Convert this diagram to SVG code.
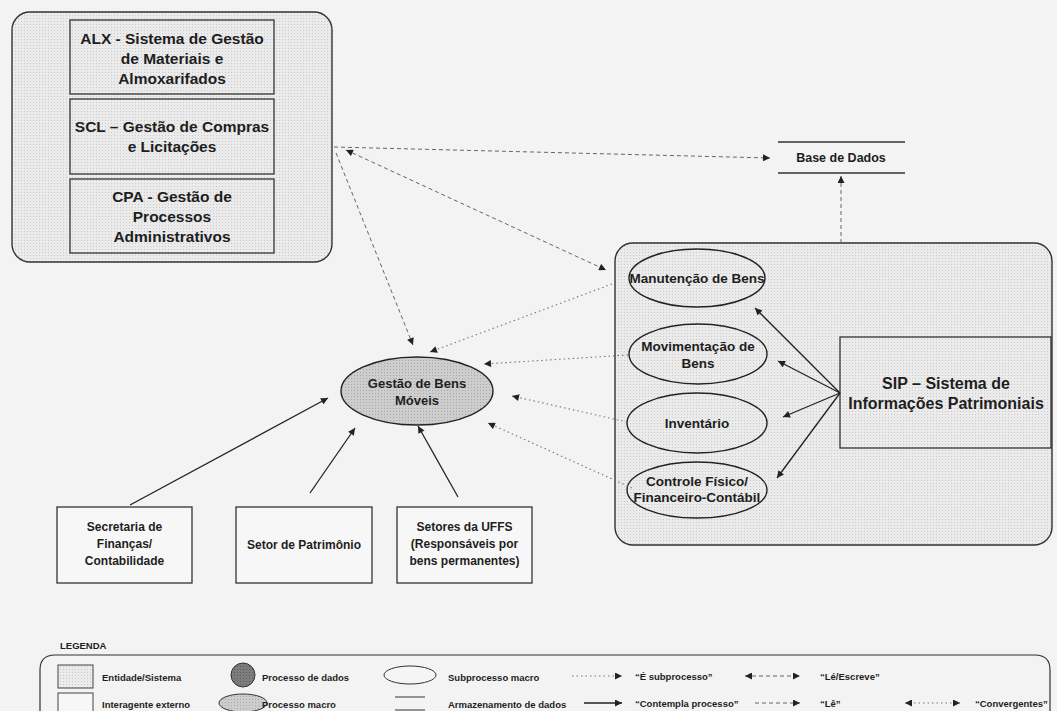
<svg xmlns="http://www.w3.org/2000/svg" width="1057" height="711" viewBox="0 0 1057 711">
<defs>
  <pattern id="dots" width="3" height="3" patternUnits="userSpaceOnUse"><rect width="3" height="3" fill="#ebebeb"/><rect width="1" height="1" fill="#c9c9c9"/></pattern>
  <pattern id="gdots" width="3" height="3" patternUnits="userSpaceOnUse"><rect width="3" height="3" fill="#cdcdcd"/><rect width="1" height="1" fill="#a9a9a9"/></pattern>
  <pattern id="ddots" width="3" height="3" patternUnits="userSpaceOnUse"><rect width="3" height="3" fill="#7d7d7d"/><rect width="1" height="1" fill="#5a5a5a"/></pattern>
  <marker id="ah" viewBox="0 0 10 10" refX="10" refY="5" markerWidth="8" markerHeight="7" markerUnits="userSpaceOnUse" orient="auto-start-reverse"><path d="M0,0 L10,5 L0,10 z" fill="#222"/></marker>
</defs>
<style>
  .t{font-family:"Liberation Sans",Arial,sans-serif;font-weight:bold;fill:#1e1e1e;text-anchor:middle;dominant-baseline:central}
  .l{font-family:"Liberation Sans",Arial,sans-serif;font-weight:bold;fill:#1e1e1e;font-size:9.5px;dominant-baseline:central}
  .cont{fill:url(#dots);stroke:#333;stroke-width:1.4}
  .box{fill:url(#dots);stroke:#333;stroke-width:1.3}
  .ext{fill:#f7f7f7;stroke:#333;stroke-width:1.3}
  .sub{fill:url(#dots);stroke:#222;stroke-width:1.4}
  .solid{stroke:#222;stroke-width:1.3;fill:none}
  .dash{stroke:#666;stroke-width:1;stroke-dasharray:4 3;fill:none}
  .dot{stroke:#777;stroke-width:1.1;stroke-dasharray:1.5 3;fill:none}
</style>
<rect width="1057" height="711" fill="#f3f3f3"/>

<g id="left-container">
  <rect class="cont" x="12" y="12" width="320" height="250" rx="18"/>
</g>
<g id="alx">
  <rect class="box" x="70" y="20" width="204" height="74"/>
  <text class="t" font-size="15.5" x="172" y="38">ALX - Sistema de Gestão</text>
  <text class="t" font-size="15.5" x="172" y="58">de Materiais e</text>
  <text class="t" font-size="15.5" x="172" y="78">Almoxarifados</text>
</g>
<g id="scl">
  <rect class="box" x="70" y="99" width="204" height="75"/>
  <text class="t" font-size="15.5" x="172" y="126">SCL – Gestão de Compras</text>
  <text class="t" font-size="15.5" x="172" y="146">e Licitações</text>
</g>
<g id="cpa">
  <rect class="box" x="70" y="179" width="204" height="74"/>
  <text class="t" font-size="15.5" x="172" y="196">CPA - Gestão de</text>
  <text class="t" font-size="15.5" x="172" y="216">Processos</text>
  <text class="t" font-size="15.5" x="172" y="236">Administrativos</text>
</g>

<g id="base-de-dados">
  <line x1="778" y1="142" x2="905" y2="142" stroke="#333" stroke-width="1.3"/>
  <line x1="778" y1="173" x2="905" y2="173" stroke="#333" stroke-width="1.3"/>
  <text class="t" font-size="12.5" x="841" y="158">Base de Dados</text>
</g>

<g id="right-container">
  <rect class="cont" x="615" y="243" width="437" height="302" rx="18"/>
</g>
<g id="manutencao">
  <ellipse class="sub" cx="697" cy="278" rx="68" ry="29"/>
  <text class="t" font-size="13.5" x="697" y="278">Manutenção de Bens</text>
</g>
<g id="movimentacao">
  <ellipse class="sub" cx="698" cy="354" rx="69" ry="30"/>
  <text class="t" font-size="13.5" x="698" y="346">Movimentação de</text>
  <text class="t" font-size="13.5" x="698" y="363">Bens</text>
</g>
<g id="inventario">
  <ellipse class="sub" cx="697" cy="423" rx="70" ry="30"/>
  <text class="t" font-size="13.5" x="697" y="423">Inventário</text>
</g>
<g id="controle">
  <ellipse class="sub" cx="697" cy="490" rx="70" ry="28"/>
  <text class="t" font-size="13.5" x="697" y="481">Controle Físico/</text>
  <text class="t" font-size="13.5" x="697" y="497">Financeiro-Contábil</text>
</g>
<g id="sip">
  <rect class="box" x="840" y="337" width="211" height="111"/>
  <text class="t" font-size="16" x="946" y="383">SIP – Sistema de</text>
  <text class="t" font-size="16" x="946" y="403">Informações Patrimoniais</text>
</g>

<g id="gestao">
  <ellipse cx="417" cy="391" rx="76" ry="34" fill="url(#gdots)" stroke="#222" stroke-width="1.4"/>
  <text class="t" font-size="13" x="417" y="383">Gestão de Bens</text>
  <text class="t" font-size="13" x="417" y="400">Móveis</text>
</g>

<g id="secretaria">
  <rect class="ext" x="57" y="507" width="135" height="76"/>
  <text class="t" font-size="12" x="124.5" y="527">Secretaria de</text>
  <text class="t" font-size="12" x="124.5" y="544">Finanças/</text>
  <text class="t" font-size="12" x="124.5" y="561">Contabilidade</text>
</g>
<g id="setor-patrimonio">
  <rect class="ext" x="236" y="507" width="136" height="76"/>
  <text class="t" font-size="12" x="304" y="545">Setor de Patrimônio</text>
</g>
<g id="setores-uffs">
  <rect class="ext" x="397" y="507" width="135" height="76"/>
  <text class="t" font-size="12" x="464.5" y="527">Setores da UFFS</text>
  <text class="t" font-size="12" x="464.5" y="544">(Responsáveis por</text>
  <text class="t" font-size="12" x="464.5" y="561">bens permanentes)</text>
</g>

<g id="connectors">
  <line class="dash" x1="334" y1="147" x2="770" y2="158" marker-end="url(#ah)"/>
  <line class="dash" x1="841" y1="243" x2="841" y2="176" marker-end="url(#ah)"/>
  <line class="dash" x1="346" y1="150" x2="606" y2="270" marker-start="url(#ah)" marker-end="url(#ah)"/>
  <line class="dash" x1="336" y1="153" x2="413" y2="345" marker-end="url(#ah)"/>
  <line class="dot" x1="612" y1="284" x2="430" y2="352" marker-end="url(#ah)"/>
  <line class="dot" x1="628" y1="355" x2="484" y2="364" marker-end="url(#ah)"/>
  <line class="dot" x1="627" y1="422" x2="512" y2="396" marker-end="url(#ah)"/>
  <line class="dot" x1="632" y1="488" x2="488" y2="423" marker-end="url(#ah)"/>
  <line class="solid" x1="840" y1="393" x2="755" y2="308" marker-end="url(#ah)"/>
  <line class="solid" x1="840" y1="393" x2="778" y2="361" marker-end="url(#ah)"/>
  <line class="solid" x1="840" y1="393" x2="783" y2="417" marker-end="url(#ah)"/>
  <line class="solid" x1="840" y1="393" x2="777" y2="478" marker-end="url(#ah)"/>
  <line class="solid" x1="130" y1="505" x2="328" y2="398" marker-end="url(#ah)"/>
  <line class="solid" x1="310" y1="493" x2="355" y2="428" marker-end="url(#ah)"/>
  <line class="solid" x1="458" y1="497" x2="418" y2="426" marker-end="url(#ah)"/>
</g>

<g id="legend">
  <text class="l" x="60" y="645">LEGENDA</text>
  <path d="M40,720 L40,670 Q40,655 55,655 L1035,655 Q1050,655 1050,670 L1050,720" fill="none" stroke="#333" stroke-width="1.2"/>
  <rect x="58" y="665" width="35" height="23" fill="url(#dots)" stroke="#444" stroke-width="1"/>
  <text class="l" x="102" y="677">Entidade/Sistema</text>
  <rect x="58" y="693" width="35" height="22" fill="#f7f7f7" stroke="#444" stroke-width="1"/>
  <text class="l" x="102" y="704">Interagente externo</text>
  <circle cx="243" cy="675" r="12" fill="url(#ddots)" stroke="#333" stroke-width="1"/>
  <text class="l" x="262" y="677">Processo de dados</text>
  <ellipse cx="243" cy="703" rx="24" ry="9" fill="url(#gdots)" stroke="#333" stroke-width="1"/>
  <text class="l" x="262" y="704">Processo macro</text>
  <ellipse cx="410" cy="675" rx="26" ry="9" fill="#f5f5f5" stroke="#333" stroke-width="1"/>
  <text class="l" x="448" y="677">Subprocesso macro</text>
  <line x1="395" y1="697" x2="425" y2="697" stroke="#333" stroke-width="1"/>
  <line x1="395" y1="710" x2="425" y2="710" stroke="#333" stroke-width="1"/>
  <text class="l" x="448" y="704">Armazenamento de dados</text>
  <line class="dot" x1="572" y1="676" x2="622" y2="676" marker-end="url(#ah)"/>
  <text class="l" x="635" y="676">“É subprocesso”</text>
  <line class="dash" x1="745" y1="676" x2="800" y2="676" marker-start="url(#ah)" marker-end="url(#ah)"/>
  <text class="l" x="820" y="676">“Lé/Escreve”</text>
  <line class="solid" x1="584" y1="703" x2="622" y2="703" marker-end="url(#ah)"/>
  <text class="l" x="635" y="703">“Contempla processo”</text>
  <line class="dash" x1="755" y1="703" x2="800" y2="703" marker-end="url(#ah)"/>
  <text class="l" x="820" y="703">“Lê”</text>
  <line class="dot" x1="905" y1="703" x2="960" y2="703" marker-start="url(#ah)" marker-end="url(#ah)" stroke-dasharray="2 5"/>
  <text class="l" x="975" y="703">“Convergentes”</text>
</g>
</svg>
